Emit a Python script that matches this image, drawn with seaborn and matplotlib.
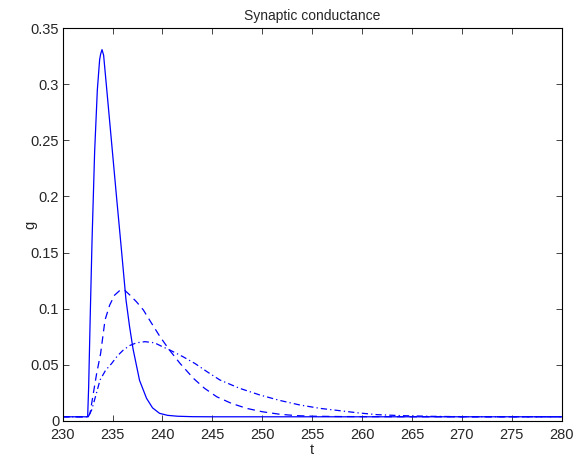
import numpy as np
import pandas as pd
import matplotlib
matplotlib.use("Agg")
import matplotlib.pyplot as plt
import seaborn as sns

sns.set_style("ticks")
plt.rcParams["font.family"] = ["Liberation Sans", "DejaVu Sans"]
plt.rcParams["xtick.direction"] = "in"
plt.rcParams["ytick.direction"] = "in"

# values
t_solid = [230, 232.5, 232.6, 232.75, 232.94, 233.2, 233.47, 233.7, 233.8,
           233.94, 234.1, 234.44, 234.9, 235.4, 235.88, 236.34, 236.7, 237.05,
           237.7, 238.4, 239.0, 239.7, 240.5, 241.5, 243, 245, 280]
g_solid = [0.0035, 0.0035, 0.03, 0.09, 0.161, 0.24, 0.295, 0.322, 0.327,
           0.331, 0.326, 0.293, 0.248, 0.199, 0.153, 0.108, 0.084, 0.064,
           0.036, 0.020, 0.0115, 0.0066, 0.0048, 0.004, 0.0036, 0.0035, 0.0035]

t_dash = [230, 232.55, 232.74, 233.07, 233.4, 233.8, 234.24, 234.7, 235.2,
          235.7, 236.2, 236.74, 237.4, 238.08, 238.9, 239.75, 240.7, 241.75,
          243.1, 244.2, 245.43, 246.9, 248.44, 250, 251.8, 253.5, 255.1,
          258, 262, 266, 280]
g_dash = [0.0035, 0.0035, 0.0066, 0.0244, 0.042, 0.060, 0.0898, 0.103, 0.112,
          0.1160, 0.1165, 0.112, 0.106, 0.0988, 0.087, 0.075, 0.063, 0.0512,
          0.0378, 0.029, 0.0214, 0.0155, 0.011, 0.008, 0.0057, 0.0045, 0.0040,
          0.0037, 0.0036, 0.0035, 0.0035]

t_dashdot = [230, 232.55, 232.9, 233.3, 233.74, 234.3, 234.9, 235.5, 236.07,
             236.7, 237.4, 238.25, 239.2, 240.0, 240.75, 242.07, 243.26,
             244.5, 245.76, 247.7, 249.77, 251.8, 253.78, 255.8, 257.8,
             259.6, 261.5, 264, 267, 270, 280]
g_dashdot = [0.0035, 0.0035, 0.0095, 0.022, 0.0363, 0.045, 0.051, 0.058,
             0.063, 0.067, 0.0695, 0.0705, 0.0695, 0.066, 0.063, 0.057, 0.051,
             0.0435, 0.0363, 0.029, 0.0229, 0.018, 0.014, 0.011, 0.0089,
             0.0070, 0.0054, 0.0045, 0.0039, 0.0036, 0.0035]

y_ticks = [0, 0.05, 0.1, 0.15, 0.2, 0.25, 0.3, 0.35]
y_tick_labels = ["0", "0.05", "0.1", "0.15", "0.2", "0.25", "0.3", "0.35"]

fig = plt.figure(figsize=(5.79, 4.57), dpi=100)
ax = fig.add_axes([0.1083, 0.0794, 0.8617, 0.8586])

sns.lineplot(x=t_solid, y=g_solid, ax=ax, color="blue", linewidth=0.9,
             sort=False)
sns.lineplot(x=t_dash, y=g_dash, ax=ax, color="blue", linewidth=0.9,
             sort=False).lines[-1].set_dashes([6, 4])
sns.lineplot(x=t_dashdot, y=g_dashdot, ax=ax, color="blue", linewidth=0.9,
             sort=False).lines[-1].set_dashes([5, 2.5, 1, 2.5])

ax.set_xlim(230, 280)
ax.set_ylim(0, 0.35)
ax.set_xticks(np.arange(230, 281, 5))
ax.set_yticks(y_ticks)
ax.set_yticklabels(y_tick_labels)
ax.tick_params(axis="both", which="both", top=True, right=True, length=4,
               width=0.6, labelsize=10.5)
ax.tick_params(axis="y", pad=2.5)
ax.tick_params(axis="x", pad=5.5)
for side in ax.spines.values():
    side.set_visible(True)
    side.set_linewidth(0.8)
    side.set_color("black")

ax.set_title("Synaptic conductance", fontsize=10, pad=6)
ax.set_xlabel("t", fontsize=10.5)
ax.set_ylabel("g", fontsize=10.5)
ax.xaxis.set_label_coords(0.5, -0.058)
ax.yaxis.set_label_coords(-0.05, 0.5)

fig.savefig("out.png", dpi=100)
